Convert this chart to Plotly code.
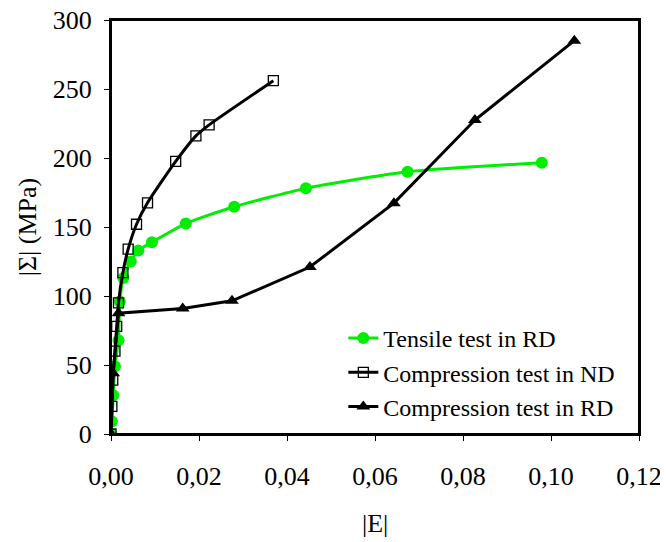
import plotly.graph_objects as go

# Tensile test in RD
tens_e = [0.0, 0.0002, 0.0005, 0.0009, 0.0017, 0.0020, 0.0028, 0.0045, 0.0062, 0.0093, 0.0170, 0.0280, 0.0443, 0.0674, 0.0979]
tens_s = [0, 9, 28, 49, 68, 96, 113, 125, 133, 139, 152.5, 164.7, 178, 190, 196.6]

# Compression test in ND
cnd_e = [0.0, 0.0002, 0.0004, 0.0009, 0.0013, 0.0017, 0.0027, 0.0039, 0.0058, 0.0083, 0.0147, 0.0193, 0.0223, 0.0369]
cnd_s = [0, 20, 39, 60, 78, 95, 117, 134, 152, 167.5, 197.5, 216, 224, 256]

# Compression test in RD
crd_e = [0.0, 0.0005, 0.0017, 0.0163, 0.0275, 0.0452, 0.0643, 0.0827, 0.1053]
crd_s = [0, 44, 87.5, 91, 96.5, 121, 167.3, 227.5, 285]

x_ticks = [0.0, 0.02, 0.04, 0.06, 0.08, 0.10, 0.12]
y_ticks = [0, 50, 100, 150, 200, 250, 300]

FONT = "Times New Roman, Liberation Serif, Tinos, DejaVu Serif, serif"

fig = go.Figure()
fig.add_trace(go.Scatter(
    x=tens_e, y=tens_s, name="Tensile test in RD", mode="lines+markers",
    line=dict(color="#00ee00", width=3, shape="spline", smoothing=0.6),
    marker=dict(symbol="circle", size=12, color="#00ee00"),
))
fig.add_trace(go.Scatter(
    x=cnd_e, y=cnd_s, name="Compression test in ND", mode="lines+markers",
    line=dict(color="black", width=3, shape="spline", smoothing=0.6),
    marker=dict(symbol="square-open", size=10, color="black", line=dict(width=1.3)),
))
fig.add_trace(go.Scatter(
    x=crd_e, y=crd_s, name="Compression test in RD", mode="lines+markers",
    line=dict(color="black", width=3),
    marker=dict(symbol="triangle-up", size=12, color="black"),
))

fig.update_layout(
    width=668, height=542,
    margin=dict(l=103, r=37, t=12, b=116, autoexpand=False),
    paper_bgcolor="white", plot_bgcolor="white",
    separators=", ",
    font=dict(family=FONT, size=26, color="black"),
    showlegend=True,
    legend=dict(
        x=0.440, y=0.285, xanchor="left", yanchor="top",
        font=dict(family=FONT, size=24, color="black"),
        bgcolor="rgba(0,0,0,0)", borderwidth=0, tracegroupgap=0,
    ),
    annotations=[dict(
        text="|E|", xref="paper", yref="paper", x=0.5, y=-89 / 414,
        xanchor="center", yanchor="middle", showarrow=False,
        font=dict(family=FONT, size=26, color="black"),
    )],
    shapes=[dict(
        type="rect", xref="paper", yref="paper", x0=0, x1=1, y0=0, y1=1,
        line=dict(color="black", width=2), fillcolor="rgba(0,0,0,0)", layer="above",
    )],
)
fig.update_xaxes(
    range=[0, 0.12], tickvals=x_ticks, tickformat=".2f", automargin=False,
    showline=True, linecolor="black", linewidth=2, mirror=True,
    ticks="outside", ticklen=5, tickcolor="black", tickwidth=1,
    ticklabelstandoff=13, ticklabeloverflow="allow",
    showgrid=False, zeroline=False,
    tickfont=dict(family=FONT, size=26),
)
fig.update_yaxes(
    range=[0, 300], tickvals=y_ticks, automargin=False,
    showline=True, linecolor="black", linewidth=2, mirror=True,
    ticks="outside", ticklen=5, tickcolor="black", tickwidth=1,
    ticklabelstandoff=7, ticklabeloverflow="allow",
    showgrid=False, zeroline=False,
    tickfont=dict(family=FONT, size=26),
    title=dict(text="|Σ| (MPa)", font=dict(family=FONT, size=26), standoff=9),
)

fig.write_html("out.html", config={"displayModeBar": False})
